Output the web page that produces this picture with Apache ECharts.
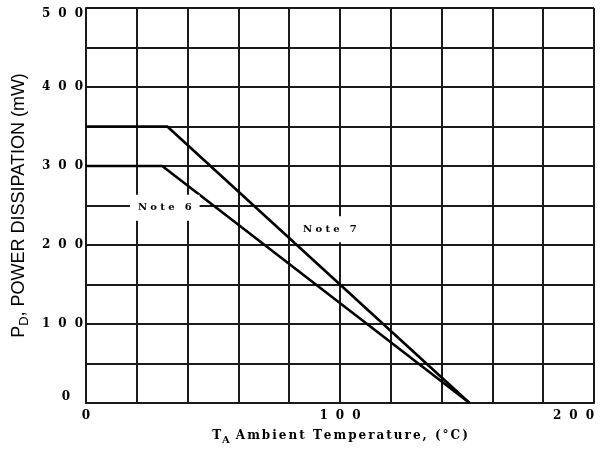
<!DOCTYPE html>
<html><head><meta charset="utf-8">
<script src="https://cdn.jsdelivr.net/npm/echarts@6/dist/echarts.min.js"></script>
<style>html,body{margin:0;padding:0;background:#fff}#c{width:603px;height:450px}</style>
</head><body><div id="c"></div>
<script>
// Data
const tempNote6 = [0, 30, 151];
const powerNote6 = [300, 300, 0];
const tempNote7 = [0, 32, 151];
const powerNote7 = [350, 350, 0];
const xTickValues = [0, 100, 200];
const xTickLabels = ['0', '1 0 0', '2 0 0'];
const yTickValues = [0, 100, 200, 300, 400, 500];
const yTickLabels = ['0', '1 0 0', '2 0 0', '3 0 0', '4 0 0', '5 0 0'];
const noteLabels = ['Note 6', 'Note 7'];
const noteTemps = [31, 96];
const notePowers = [247, 220];
const xTitleSub = 'A';
const xTitleMain = 'Ambient Temperature, (°C)';
const yTitleSub = 'D';
const yTitleMain = ', POWER DISSIPATION (mW)';

const SERIF = '"DejaVu Serif", "Liberation Serif", serif';
const SANS = '"Liberation Sans", Arial, sans-serif';
const widen = s => s.replace(/ /g, '\u2002\u2006');
const spaceOut = (s, sep) => s.split('').join(sep);

const chart = echarts.init(document.getElementById('c'), null, {renderer: 'canvas'});
const gridColor = '#1a1a1a';

function noteMark(i) {
  return {
    symbol: 'rect', symbolSize: 0, silent: true,
    label: {
      show: true, position: 'inside',
      formatter: spaceOut(noteLabels[i], '\u2004'),
      fontFamily: SERIF, fontWeight: 'bold', fontSize: 10, color: '#000',
      backgroundColor: '#fff', padding: [8, 8]
    },
    data: [{coord: [noteTemps[i], notePowers[i]]}]
  };
}

const tickFont = {fontFamily: SERIF, fontWeight: 'bold', fontSize: 12, color: '#000'};

const option = {
  animation: false,
  backgroundColor: '#fff',
  grid: {left: 86, right: 9, top: 8, bottom: 45},
  xAxis: {
    type: 'value', min: 0, max: 200, interval: 20,
    axisLine: {show: true, onZero: false, lineStyle: {color: gridColor, width: 2}},
    axisTick: {show: false},
    splitLine: {show: true, lineStyle: {color: gridColor, width: 2}},
    axisLabel: Object.assign({
      formatter: v => { const k = xTickValues.indexOf(v); return k < 0 ? '' : widen(xTickLabels[k]); },
      margin: 7, alignMaxLabel: 'right'
    }, tickFont),
    name: '{t|T}{s|' + xTitleSub + '}{t|\u2002' + spaceOut(xTitleMain, '\u2006') + '}',
    nameLocation: 'middle', nameGap: 24,
    nameTextStyle: {
      rich: {
        t: {fontFamily: SERIF, fontWeight: 'bold', fontSize: 12, color: '#000'},
        s: {fontFamily: SERIF, fontWeight: 'bold', fontSize: 10, color: '#000', padding: [8, 0, 0, 1]}
      }
    }
  },
  yAxis: {
    type: 'value', min: 0, max: 500, interval: 50,
    axisLine: {show: true, onZero: false, lineStyle: {color: gridColor, width: 2}},
    axisTick: {show: false},
    splitLine: {show: true, lineStyle: {color: gridColor, width: 2}},
    axisLabel: Object.assign({
      formatter: v => {
        const k = yTickValues.indexOf(v);
        if (k < 0) return '';
        return v === 0 ? '{z|' + widen(yTickLabels[k]) + '}' : widen(yTickLabels[k]);
      },
      margin: 3,
      verticalAlignMaxLabel: 'top', verticalAlignMinLabel: 'bottom',
      rich: {z: Object.assign({padding: [0, 13, 0, 0]}, tickFont)}
    }, tickFont),
    name: '{t|P}{s|' + yTitleSub + '}{t|' + yTitleMain + '}',
    nameLocation: 'middle', nameGap: 55,
    nameTextStyle: {
      rich: {
        t: {fontFamily: SANS, fontSize: 18, color: '#000'},
        s: {fontFamily: SANS, fontSize: 13, color: '#000', padding: [10, 0, 0, 0]}
      }
    }
  },
  series: [
    {
      type: 'line', symbol: 'none', z: 3,
      data: tempNote6.map((t, i) => [t, powerNote6[i]]),
      lineStyle: {color: '#000', width: 2.6},
      markPoint: noteMark(0)
    },
    {
      type: 'line', symbol: 'none', z: 3,
      data: tempNote7.map((t, i) => [t, powerNote7[i]]),
      lineStyle: {color: '#000', width: 2.6},
      markPoint: noteMark(1)
    }
  ]
};
chart.setOption(option);
</script>
</body></html>
